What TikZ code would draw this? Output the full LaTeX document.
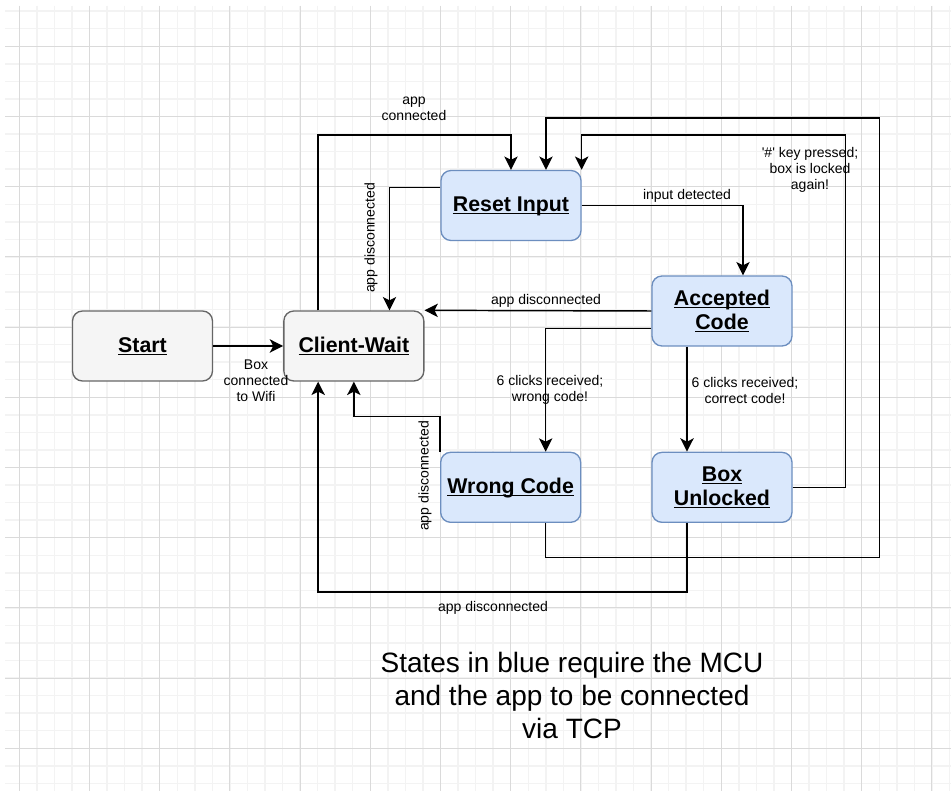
\documentclass[tikz,border=0pt]{standalone}
\usepackage{fontspec}
\setmainfont{Liberation Sans}
\usepackage{tikz}
\usetikzlibrary{calc, positioning, arrows.meta}

\definecolor{bluefill}{HTML}{DAE8FC}
\definecolor{blueline}{HTML}{6C8EBF}
\definecolor{greyfill}{HTML}{F5F5F5}
\definecolor{greyline}{HTML}{666666}
\definecolor{gridminor}{HTML}{F3F3F3}
\definecolor{gridmajor}{HTML}{DADADA}

\newcommand{\stateul}[1]{\underline{\vphantom{A}\smash{#1}}}

\begin{document}
\begin{tikzpicture}[x=0.75pt, y=-0.75pt,
    state/.style={draw, rounded corners=7.5pt, line width=1pt, minimum width=105pt, minimum height=52.5pt, align=center, font=\fontsize{16}{18}\selectfont\bfseries},
    bluestate/.style={state, draw=blueline, fill=bluefill},
    greystate/.style={state, draw=greyline, fill=greyfill},
    arr/.style={-{Stealth[length=10pt, width=10pt, inset=2.5pt]}, line width=1.1pt},
    lbl/.style={align=center, font=\fontsize{10.5}{12}\selectfont}]
    % Background grid
    \fill[white] (0,0) rectangle (951,791);
    \useasboundingbox (0,0) rectangle (951,791);
    \foreach \i in {0,...,53}
        \draw[gridminor, line width=1.1pt] ({19.3+17.55*\i},6) -- ({19.3+17.55*\i},791);
    \foreach \j in {0,...,44}
        \draw[gridminor, line width=1.1pt] (5,{11.2+17.55*\j}) -- (951,{11.2+17.55*\j});
    \foreach \i in {0,...,13}
        \draw[gridmajor, line width=0.7pt] ({19.3+70.2*\i},6) -- ({19.3+70.2*\i},791);
    \foreach \j in {0,...,10}
        \draw[gridmajor, line width=0.7pt] (5,{46.3+70.2*\j}) -- (951,{46.3+70.2*\j});

    % States
    \node[greystate] (start) at (142.5,346) {\stateul{Start}};
    \node[greystate, right=52.5pt of start] (client) {\stateul{Client-Wait}};
    \node[bluestate] (reset) at (511,205.5) {\stateul{Reset Input}};
    \node[bluestate] (accepted) at (722,311) {\stateul{Accepted}\\\stateul{Code}};
    \node[bluestate, below=78.75pt of accepted] (unlocked) {\stateul{Box}\\\stateul{Unlocked}};
    \node[bluestate, left=52.5pt of unlocked] (wrong) {\stateul{Wrong Code}};

    % Transitions
    \draw[arr] (start) -- (client);
    \node[lbl] (lblwifi) at (256,381) {Box\\connected\\to Wifi};

    \draw[arr] ($(client.north west)+(35,0)$) |- ($(reset.north)+(0,-35)$) -- (reset.north);
    \node[lbl] (lblconn) at (414,109) {app\\connected};

    \draw[arr] ($(reset.north west)+(0,17.5)$) -| ($(client.north east)+(-35,0)$);
    \node[lbl, rotate=90] (lblresetdis) at (371,238) {app disconnected};

    \draw[arr] (reset.east) -| ($(accepted.north)+(21,0)$);
    \node[lbl] (lblinput) at (687,196) {input detected};

    \draw[arr] (accepted.west) -- (client.north east);
    \node[lbl] (lblaccdis) at (546,301) {app disconnected};

    \draw[arr] ($(accepted.west)+(0,17.5)$) -| ($(wrong.north)+(35,0)$);
    \node[lbl] (lblwrong) at (550,390) {6 clicks received;\\wrong code!};

    \draw[arr] ($(accepted.south)+(-35,0)$) -- ($(unlocked.north)+(-35,0)$);
    \node[lbl] (lblcorrect) at (745,390) {6 clicks received;\\correct code!};

    \draw[arr] (unlocked.east) -- ++(53,0) |- ($(reset.north east)+(0,-35)$) -- (reset.north east);
    \node[lbl] (lbllock) at (810,170) {\textquotesingle\#\textquotesingle{} key pressed;\\box is locked\\again!};

    \draw[arr] ($(wrong.south)+(35,0)$) -- ++(0,34.5) -| ++(334,-439.5) -| ($(reset.north)+(35,0)$);

    \draw[arr] (wrong.north west) |- ($(client.south)+(0,35)$) -- (client.south);
    \node[lbl, rotate=90] (lblwrongdis) at (425,476) {app disconnected};

    \draw[arr] ($(unlocked.south)+(-35,0)$) -- ++(0,69) -| ($(client.south west)+(35,0)$);
    \node[lbl] (lblunldis) at (493,608) {app disconnected};

    % Note
    \node[align=center, font=\fontsize{21}{24.75}\selectfont] (note) at (572,695) {States in blue require the MCU\\and the app to be connected\\via TCP};
\end{tikzpicture}
\end{document}
